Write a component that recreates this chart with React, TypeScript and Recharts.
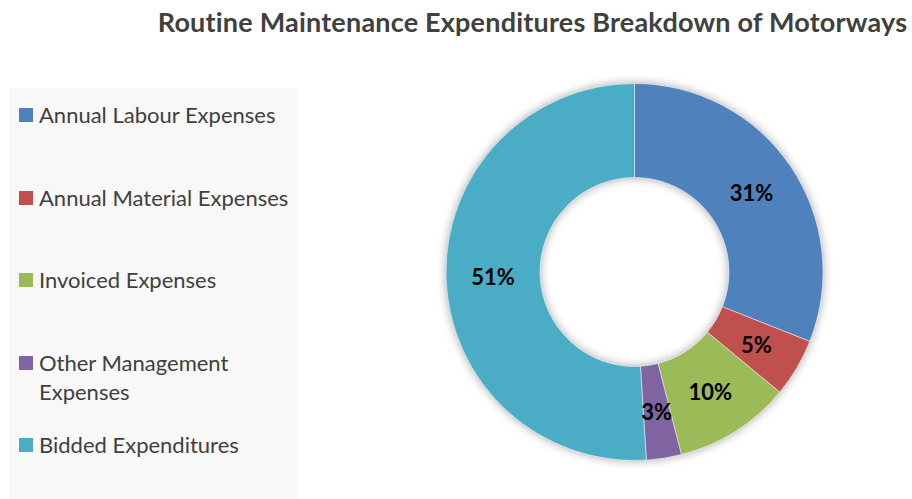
import { PieChart, Pie, Cell } from 'recharts'

const categories = [
  'Annual Labour Expenses',
  'Annual Material Expenses',
  'Invoiced Expenses',
  'Other Management Expenses',
  'Bidded Expenditures',
]
const shares = [31, 5, 10, 3, 51]
const colors = ['#4F81BD', '#C0504D', '#9BBB59', '#8064A2', '#4BACC6']

const legendTops = [99.5, 182.5, 264.5, 347.5, 429.5]

const data = categories.map((name, i) => ({ name, value: shares[i] }))

const RAD = Math.PI / 180
const FONT = 'Lato, "Open Sans", sans-serif'

function renderLabel(props: any) {
  const { cx, cy, midAngle, innerRadius, outerRadius, value } = props
  const r = (innerRadius + outerRadius) / 2
  const x = cx + r * Math.cos(-midAngle * RAD)
  const y = cy + r * Math.sin(-midAngle * RAD)
  return (
    <text x={x} y={y} textAnchor="middle" dominantBaseline="central"
      fill="#000" fontSize={22} fontWeight={700} fontFamily={FONT}>
      {`${value}%`}
    </text>
  )
}

export default function App() {
  return (
    <div style={{ position: 'relative', width: 912, height: 499, background: '#fff', overflow: 'hidden', fontFamily: FONT }}>
      <style>{`body{margin:0} .recharts-pie{filter:drop-shadow(0 0 5px rgba(0,0,0,0.35))}`}</style>
      <div style={{
        position: 'absolute', left: 0, width: 1065, top: 5, textAlign: 'center',
        fontSize: 27, fontWeight: 700, color: '#404040', whiteSpace: 'nowrap', letterSpacing: 0.2,
      }}>
        Routine Maintenance Expenditures Breakdown of Motorways
      </div>

      <div style={{ position: 'absolute', left: 9, top: 88, width: 289, height: 411, background: '#f8f8f8' }}>
        {categories.map((c, i) => (
          <div key={c} style={{
            position: 'absolute', left: 10, top: legendTops[i] - 88, width: 270,
            display: 'flex', alignItems: 'flex-start', color: '#404040', fontSize: 22, lineHeight: '29px',
          }}>
            <span style={{ width: 14, height: 14, background: colors[i], marginTop: 8.5, marginRight: 6, flex: 'none' }} />
            <span>{c}</span>
          </div>
        ))}
      </div>

      <div style={{ position: 'absolute', left: 0, top: 0 }}>
        <PieChart width={912} height={499} margin={{ top: 0, right: 0, bottom: 0, left: 0 }}>
          <Pie
            data={data}
            dataKey="value"
            nameKey="name"
            cx={634.5}
            cy={272}
            innerRadius={94.5}
            outerRadius={188.5}
            startAngle={90}
            endAngle={-270}
            stroke="#ffffff"
            strokeWidth={0.5}
            label={renderLabel}
            labelLine={false}
            isAnimationActive={false}
          >
            {data.map((d, i) => (
              <Cell key={d.name} fill={colors[i]} />
            ))}
          </Pie>
        </PieChart>
      </div>
    </div>
  )
}
